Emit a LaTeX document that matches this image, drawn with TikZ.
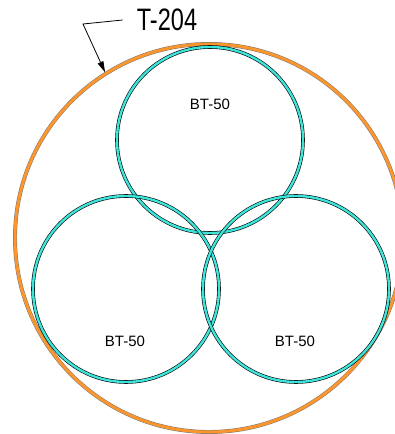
\documentclass[tikz,border=0pt]{standalone}
\usepackage{fontspec}
\setmainfont{Liberation Sans}
\newfontfamily\narrowfont[FakeStretch=0.76]{Liberation Sans}
\usetikzlibrary{arrows.meta}
\definecolor{tankorange}{RGB}{250,150,45}
\definecolor{tankcyan}{RGB}{60,228,218}

\begin{document}
\begin{tikzpicture}[x=1pt,y=1pt]
			\tikzstyle{big} = [circle,draw=black!55,line width=0.45pt,double=tankorange,double distance=3pt,inner sep=0pt,minimum size=388pt]
			\tikzstyle{small} = [circle,draw=black,line width=0.6pt,double=tankcyan,double distance=2.4pt,inner sep=0pt,minimum size=186pt]
			\tikzstyle{lbl} = [font=\fontsize{15}{17}\selectfont]
			
			\useasboundingbox (0,0) rectangle (394,434);
			
			\node[big] (t204) at (209,196) {};
			\node[small] (bt1) at (210,294) {};
			\node[small] (bt2) at (126,145) {};
			\node[small] (bt3) at (296,145) {};
			
			\node[lbl] (l1) at (210,330) {BT-50};
			\node[lbl] (l2) at (125,93) {BT-50};
			\node[lbl] (l3) at (295,93) {BT-50};
			
			\node[font=\narrowfont\fontsize{31}{33}\selectfont,inner ysep=2pt,inner xsep=14pt] (tag) at (167,414) {T-204};
			\coordinate (bend) at (83,410);
			\draw[-{Triangle[length=11pt,width=6pt]},line width=0.8pt] (tag.west) -- (bend) -- ([shift={(-1,1)}]t204.122);
		\end{tikzpicture}
\end{document}
